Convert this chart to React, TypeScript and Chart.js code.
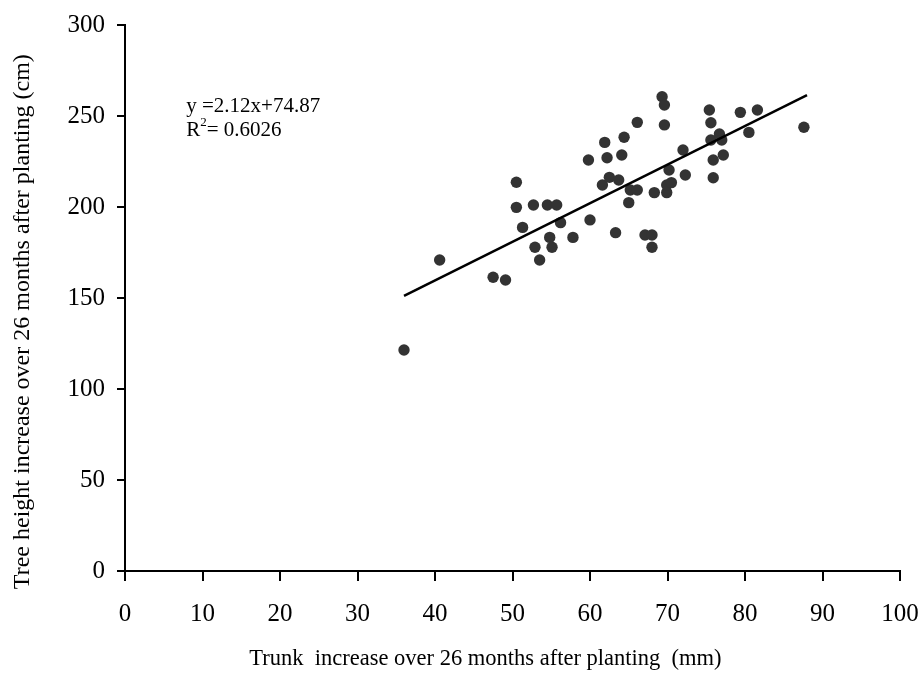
import React, { useEffect, useRef } from "react";
import { Chart, registerables } from "chart.js";

Chart.register(...registerables);

// Trunk increase over 26 months (mm)
const trunkIncrease = [
  36.0, 40.6, 47.5, 49.1, 50.5, 50.5, 51.3, 52.7, 52.9, 53.5,
  54.5, 55.7, 54.8, 55.1, 56.2, 57.8, 59.8, 60.0, 61.9, 62.2,
  61.6, 62.5, 63.7, 63.3, 64.1, 64.4, 65.0, 65.2, 66.1, 66.1,
  67.1, 68.0, 68.0, 68.3, 69.3, 69.6, 69.6, 69.9, 69.9, 70.5,
  70.2, 72.0, 72.3, 75.4, 75.6, 75.6, 75.9, 75.9, 76.7, 77.0,
  77.2, 79.4, 80.5, 81.6, 87.6,
];
// Tree height increase over 26 months (cm)
const heightIncrease = [
  121.4, 170.9, 161.4, 159.9, 213.6, 199.8, 188.8, 201.1, 177.9, 170.9,
  201.1, 201.1, 183.3, 177.9, 191.4, 183.3, 225.8, 192.9, 235.5, 227.1,
  212.1, 216.3, 214.8, 185.9, 228.6, 238.3, 202.4, 209.3, 209.3, 246.5,
  184.6, 184.6, 177.9, 207.9, 260.6, 256.0, 245.1, 207.9, 212.1, 213.4,
  220.3, 231.3, 217.6, 253.3, 246.3, 236.8, 225.8, 216.1, 240.1, 236.8,
  228.6, 252.0, 241.0, 253.3, 243.8,
];

const fitSlope = 2.12;
const fitIntercept = 74.87;
const fitRange = [36, 88];

const xTitle = "Trunk  increase over 26 months after planting  (mm)";
const yTitle = "Tree height increase over 26 months after planting (cm)";
const eqLine = "y =2.12x+74.87";
const r2Value = "0.6026";

const FONT = '"Liberation Serif", "Times New Roman", serif';

export default function App() {
  const ref = useRef<HTMLCanvasElement | null>(null);

  useEffect(() => {
    if (!ref.current) return;
    const points = trunkIncrease.map((x, i) => ({ x, y: heightIncrease[i] }));
    const fit = fitRange.map((x) => ({ x, y: fitSlope * x + fitIntercept }));

    const textPlugin = {
      id: "texts",
      afterDraw(chart: any) {
        const ctx = chart.ctx as CanvasRenderingContext2D;
        const xs = chart.scales.x;
        const ys = chart.scales.y;
        ctx.save();
        ctx.fillStyle = "#000";
        // x title
        ctx.font = `22.5px ${FONT}`;
        ctx.textAlign = "center";
        ctx.textBaseline = "middle";
        ctx.fillText(xTitle, xs.getPixelForValue(46.5), 659);
        // y title
        ctx.save();
        ctx.translate(23, ys.getPixelForValue(137));
        ctx.rotate(-Math.PI / 2);
        ctx.font = `24px ${FONT}`;
        ctx.fillText(yTitle, 0, 0);
        ctx.restore();
        // equation
        const ax = xs.getPixelForValue(7.9);
        const ay = ys.getPixelForValue(252);
        ctx.textAlign = "left";
        ctx.textBaseline = "alphabetic";
        ctx.font = `21px ${FONT}`;
        ctx.fillText(eqLine, ax, ay);
        ctx.fillText("R", ax, ay + 24);
        const rw = ctx.measureText("R").width;
        ctx.font = `13px ${FONT}`;
        ctx.fillText("2", ax + rw, ay + 14);
        const sw = ctx.measureText("2").width;
        ctx.font = `21px ${FONT}`;
        ctx.fillText("= " + r2Value, ax + rw + sw, ay + 24);
        ctx.restore();
      },
    };

    const chart = new Chart(ref.current, {
      type: "scatter",
      data: {
        datasets: [
          {
            type: "line",
            data: fit,
            borderColor: "#000",
            borderWidth: 2.5,
            pointRadius: 0,
            fill: false,
          } as any,
          {
            type: "scatter",
            data: points,
            backgroundColor: "#333333",
            borderColor: "#333333",
            borderWidth: 0,
            pointRadius: 5.7,
          },
        ],
      },
      options: {
        animation: false,
        responsive: true,
        maintainAspectRatio: false,
        layout: { padding: { top: 25, right: 23, left: 0, bottom: 0 } },
        plugins: { legend: { display: false }, tooltip: { enabled: false } },
        scales: {
          x: {
            type: "linear",
            min: 0,
            max: 100,
            afterFit: (s: any) => {
              s.height = 113;
              s.paddingRight = 23;
              s.paddingLeft = 0;
            },
            ticks: {
              stepSize: 10,
              color: "#000",
              font: { family: FONT, size: 25 },
              padding: 18,
            },
            grid: {
              display: true,
              drawOnChartArea: false,
              drawTicks: true,
              tickLength: 10,
              color: "#000",
              lineWidth: 2,
            },
            border: { display: true, color: "#000", width: 2 },
          },
          y: {
            type: "linear",
            min: 0,
            max: 300,
            afterFit: (s: any) => {
              s.width = 125;
              s.paddingTop = 25;
              s.paddingBottom = 0;
            },
            ticks: {
              stepSize: 50,
              color: "#000",
              font: { family: FONT, size: 25 },
              padding: 12,
            },
            grid: {
              display: true,
              drawOnChartArea: false,
              drawTicks: true,
              tickLength: 8,
              color: "#000",
              lineWidth: 2,
            },
            border: { display: true, color: "#000", width: 2 },
          },
        },
      },
      plugins: [textPlugin],
    });
    return () => chart.destroy();
  }, []);

  return (
    <div style={{ position: "absolute", left: 0, top: 0, width: 923, height: 684, background: "#fff" }}>
      <canvas ref={ref} />
    </div>
  );
}
